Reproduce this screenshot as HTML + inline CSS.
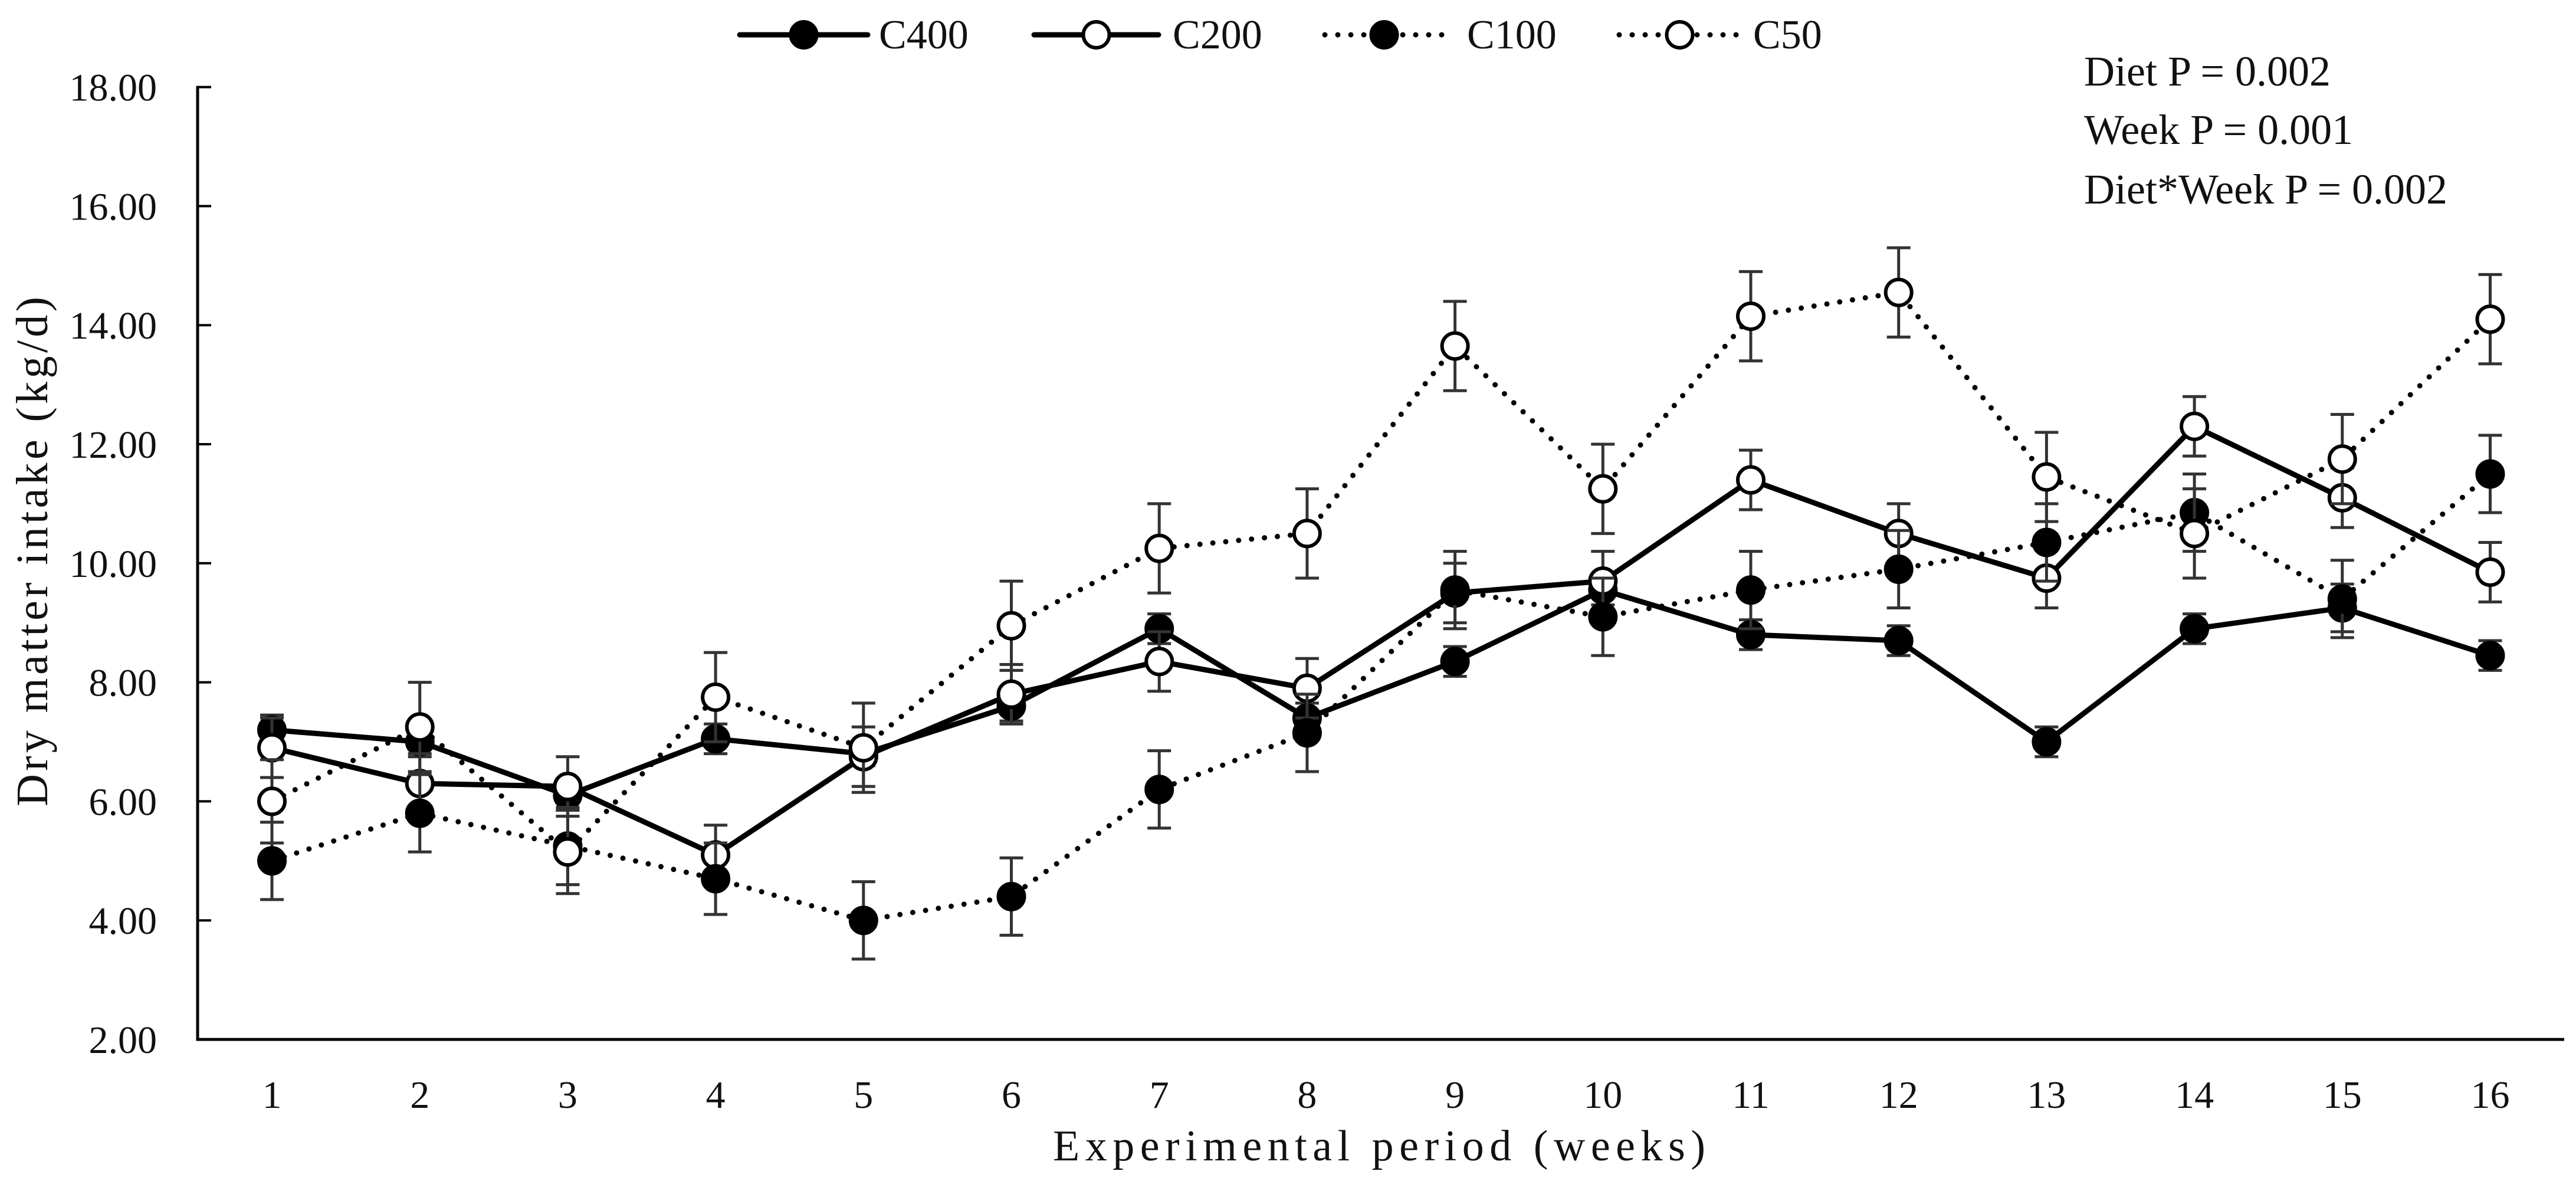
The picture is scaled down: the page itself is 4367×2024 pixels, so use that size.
<!DOCTYPE html>
<html><head><meta charset="utf-8"><style>
html,body{margin:0;padding:0;background:#fff}
svg{display:block}
text{font-family:"Liberation Serif",serif;fill:#111}
</style></head><body>
<svg id="chart" width="4367" height="2024" viewBox="0 0 4367 2024" xmlns="http://www.w3.org/2000/svg">
<g id="axes"></g>
<g id="series"></g>
<g id="legend"></g>
<text x="1785" y="1967" font-size="74" textLength="1106" lengthAdjust="spacing">Experimental period (weeks)</text>
<text transform="translate(80,935) rotate(-90)" font-size="76" text-anchor="middle" textLength="864" lengthAdjust="spacing">Dry matter intake (kg/d)</text>
<text x="3533" y="145" font-size="72">Diet P = 0.002</text>
<text x="3533" y="244" font-size="72">Week P = 0.001</text>
<text x="3533" y="345" font-size="72">Diet*Week P = 0.002</text>
</svg>
<script>
const weeks = [1,2,3,4,5,6,7,8,9,10,11,12,13,14,15,16];
const yTicks = [2,4,6,8,10,12,14,16,18];
const yTickLabels = ["2.00","4.00","6.00","8.00","10.00","12.00","14.00","16.00","18.00"];
const c400 = [7.2,7.0,6.1,7.05,6.8,7.6,8.9,7.4,8.35,9.55,8.8,8.7,7.0,8.9,9.25,8.45];
const c400Err = [0.25,0.25,0.25,0.25,0.2,0.25,0.25,0.25,0.25,0.25,0.25,0.25,0.25,0.25,0.4,0.25];
const c200 = [6.9,6.3,6.25,5.1,6.75,7.8,8.35,7.9,9.5,9.7,11.4,10.5,9.75,12.3,11.1,9.85];
const c200Err = [0.5,0.5,0.5,0.5,0.5,0.5,0.5,0.5,0.5,0.5,0.5,0.5,0.5,0.5,0.5,0.5];
const c100 = [5.0,5.8,5.25,4.7,4.0,4.4,6.2,7.15,9.55,9.1,9.55,9.9,10.35,10.85,9.4,11.5];
const c100Err = [0.65,0.65,0.65,0.6,0.65,0.65,0.65,0.65,0.65,0.65,0.65,0.65,0.65,0.65,0.65,0.65];
const c50 = [6.0,7.25,5.15,7.75,6.9,8.95,10.25,10.5,13.65,11.25,14.15,14.55,11.45,10.5,11.75,14.1];
const c50Err = [0.7,0.75,0.7,0.75,0.75,0.75,0.75,0.75,0.75,0.75,0.75,0.75,0.75,0.75,0.75,0.75];

const NS="http://www.w3.org/2000/svg";
const X0=461, DX=250.7, Y0=1762, PY=100.9;
const xs = w => X0+(w-1)*DX;
const ys = v => Y0-(v-2)*PY;
function mk(tag, parent, attrs){const e=document.createElementNS(NS,tag);for(const k in attrs)e.setAttribute(k,attrs[k]);parent.appendChild(e);return e;}
const axes=document.getElementById('axes');
let e=mk('line',axes,{x1:335,y1:ys(18)-2,x2:335,y2:Y0+2,stroke:'#000','stroke-width':5});


e=mk('line',axes,{x1:333,y1:Y0,x2:4347,y2:Y0,stroke:'#000','stroke-width':5});


yTicks.forEach((t,i)=>{
  let tk=mk('line',axes,{x1:335,x2:358,y1:ys(t),y2:ys(t),stroke:'#000','stroke-width':4});
  
  
  let tl=mk('text',axes,{x:266,y:ys(t)+23,'font-size':66,'text-anchor':'end'});
  tl.textContent=yTickLabels[i];
  
  
});
weeks.forEach(w=>{
  let tl=mk('text',axes,{x:xs(w),y:1878,'font-size':66,'text-anchor':'middle'});
  tl.textContent=String(w);
  
  
});
const seriesG=document.getElementById('series');
const defs=[
  {name:'c400',vals:c400,err:c400Err,dot:false,fill:'#000'},
  {name:'c200',vals:c200,err:c200Err,dot:false,fill:'#fff'},
  {name:'c100',vals:c100,err:c100Err,dot:true,fill:'#000'},
  {name:'c50',vals:c50,err:c50Err,dot:true,fill:'#fff'}
];
defs.forEach(d=>{
  const g=mk('g',seriesG,{});
  
  
  d.vals.forEach((v,i)=>{
    const x=xs(weeks[i]),t=ys(v+d.err[i]),b=ys(v-d.err[i]);
    const eb=mk('path',g,{d:`M${x},${t}V${b}M${x-20},${t}H${x+20}M${x-20},${b}H${x+20}`,stroke:'#333','stroke-width':5,fill:'none'});
    
    
  });
  const pts=d.vals.map((v,i)=>xs(weeks[i])+','+ys(v)).join(' ');
  const ln=mk('polyline',g,{points:pts,fill:'none',stroke:'#000','stroke-width':9,'stroke-linecap':'round','stroke-linejoin':'round'});
  if(d.dot){ln.setAttribute('stroke-dasharray','0 22');}
  
  
  d.vals.forEach((v,i)=>{
    const c=mk('ellipse',g,{cx:xs(weeks[i]),cy:ys(v),rx:22,ry:22,fill:d.fill,stroke:'#000','stroke-width':6});
    
    
  });
});
const leg=document.getElementById('legend');
const legItems=[
  {label:'C400',x1:1254,x2:1471,dot:false,fill:'#000',tx:1490},
  {label:'C200',x1:1753,x2:1964,dot:false,fill:'#fff',tx:1988},
  {label:'C100',x1:2246,x2:2447,dot:true,fill:'#000',tx:2487},
  {label:'C50',x1:2745,x2:2950,dot:true,fill:'#fff',tx:2972}
];
legItems.forEach(it=>{
  const g=mk('g',leg,{});
  
  
  const l=mk('line',g,{x1:it.x1,x2:it.x2,y1:59,y2:59,stroke:'#000','stroke-width':9,'stroke-linecap':'round'});
  if(it.dot)l.setAttribute('stroke-dasharray','0 22');
  mk('ellipse',g,{cx:(it.x1+it.x2)/2,cy:59,rx:22,ry:22,fill:it.fill,stroke:'#000','stroke-width':6});
  const t=mk('text',g,{x:it.tx,y:82,'font-size':70});
  t.textContent=it.label;
});
</script>
</body></html>
